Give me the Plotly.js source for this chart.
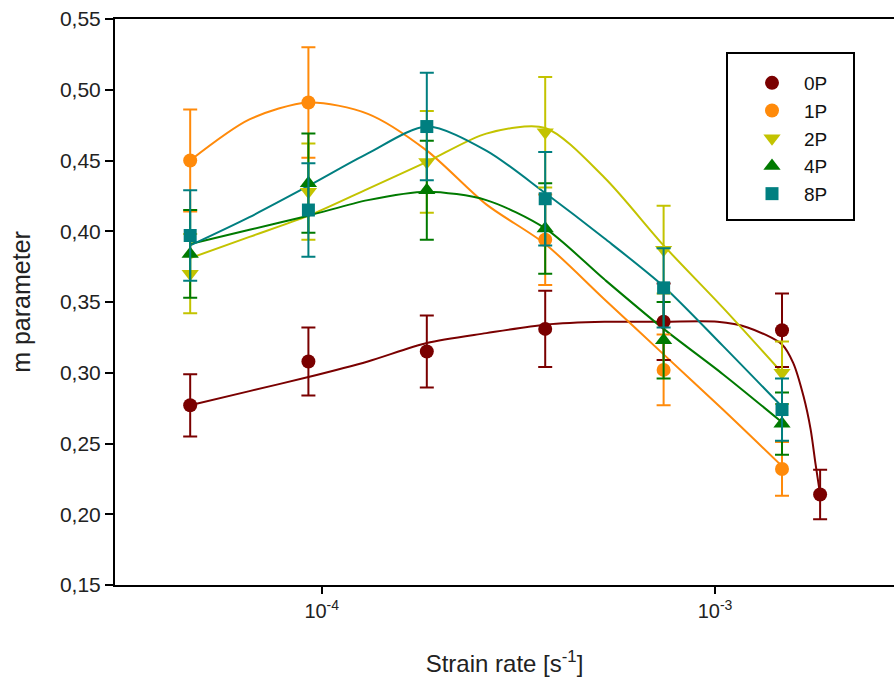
<!DOCTYPE html>
<html>
<head>
<meta charset="utf-8">
<script src="https://cdn.plot.ly/plotly-3.0.1.min.js"></script>
<style>html,body{margin:0;padding:0;background:#fff;}#chart{width:894px;height:687px;}</style>
</head>
<body>
<div id="chart"></div>
<script>
// ---- data ----
const seriesNames = ['0P', '1P', '2P', '4P', '8P'];
const strainRate = [4.63e-5, 9.25e-5, 1.85e-4, 3.7e-4, 7.4e-4, 1.48e-3];
const strainRate0P = [4.63e-5, 9.25e-5, 1.85e-4, 3.7e-4, 7.4e-4, 1.48e-3, 1.85e-3];

const m0P = [0.277, 0.308, 0.315, 0.331, 0.336, 0.330, 0.214];
const err0P = [0.022, 0.024, 0.0255, 0.027, 0.027, 0.026, 0.0175];
const m1P = [0.450, 0.491, null, 0.394, 0.302, 0.232];
const err1P = [0.036, 0.039, null, 0.032, 0.025, 0.019];
const m2P = [0.370, 0.428, 0.449, 0.470, 0.387, 0.300];
const err2P = [0.028, 0.034, 0.036, 0.039, 0.031, 0.022];
const m4P = [0.384, 0.434, 0.429, 0.402, 0.323, 0.264];
const err4P = [0.031, 0.035, 0.035, 0.032, 0.027, 0.022];
const m8P = [0.397, 0.415, 0.474, 0.423, 0.360, 0.274];
const err8P = [0.032, 0.033, 0.038, 0.033, 0.028, 0.022];

// fitted curves, values
const fitRate = [4.63e-5, 6.55e-5, 9.25e-5, 1.31e-4, 1.85e-4, 2.62e-4, 3.7e-4, 5.23e-4, 7.4e-4, 1.047e-3, 1.48e-3];
const fit1P = [0.450, 0.479, 0.491, 0.483, 0.457, 0.419, 0.391, 0.352, 0.313, 0.274, 0.234];
const fit2P = [0.381, 0.396, 0.411, 0.430, 0.449, 0.469, 0.473, 0.438, 0.390, 0.346, 0.300];
const fit4P = [0.391, 0.401, 0.411, 0.422, 0.428, 0.422, 0.402, 0.366, 0.331, 0.299, 0.265];
const fit8P = [0.390, 0.410, 0.432, 0.455, 0.474, 0.457, 0.427, 0.395, 0.361, 0.319, 0.276];
const fitRate0P = [4.63e-5, 6.55e-5, 9.25e-5, 1.31e-4, 1.85e-4, 2.62e-4, 3.7e-4, 5.23e-4, 7.4e-4, 1.014e-3, 1.21e-3, 1.48e-3, 1.58e-3, 1.68e-3, 1.75e-3, 1.80e-3, 1.85e-3];
const fit0P = [0.277, 0.287, 0.297, 0.308, 0.321, 0.328, 0.334, 0.336, 0.336, 0.336, 0.332, 0.320, 0.307, 0.283, 0.260, 0.236, 0.214];

const xTickVals = [1e-4, 1e-3];
const xTickText = ['10<sup>-4</sup>', '10<sup>-3</sup>'];

// ---- styling ----
const colors = ['#7a0000', '#ff8a0a', '#c3c300', '#007a00', '#007f80'];
const symbols = ['circle', 'circle', 'triangle-down', 'triangle-up', 'square'];
const sizes = [14, 14, 15, 15, 13];
const FONT = '"Liberation Sans", Arial, sans-serif';

const points = [
  [strainRate0P, m0P, err0P],
  [strainRate, m1P, err1P],
  [strainRate, m2P, err2P],
  [strainRate, m4P, err4P],
  [strainRate, m8P, err8P]
];
const fits = [
  [fitRate0P, fit0P],
  [fitRate, fit1P],
  [fitRate, fit2P],
  [fitRate, fit4P],
  [fitRate, fit8P]
];

const traces = [];
fits.forEach((f, i) => {
  traces.push({
    x: f[0], y: f[1], type: 'scatter', mode: 'lines',
    line: {color: colors[i], width: 2, shape: 'spline', smoothing: 0.8},
    showlegend: false, hoverinfo: 'skip'
  });
});
points.forEach((p, i) => {
  traces.push({
    x: p[0], y: p[1], type: 'scatter', mode: 'markers', name: seriesNames[i],
    marker: {color: colors[i], symbol: symbols[i], size: sizes[i]},
    error_y: {type: 'data', array: p[2], visible: true, color: colors[i], thickness: 2, width: 7}
  });
});

const L = 115, R = 0, T = 19, B = 102, W = 894, H = 687;
const pw = W - L - R, ph = H - T - B;
const px2x = v => (v - L) / pw;
const px2y = v => (H - B - v) / ph;

const layout = {
  width: W, height: H,
  margin: {l: L, r: R, t: T, b: B},
  paper_bgcolor: '#fff', plot_bgcolor: '#fff',
  separators: ', ',
  font: {family: FONT, color: '#000', size: 18},
  showlegend: true,
  legend: {
    x: px2x(740), y: px2y(64), xanchor: 'left', yanchor: 'top',
    bgcolor: 'rgba(0,0,0,0)', borderwidth: 0,
    font: {family: FONT, size: 19, color: '#111'},
    itemwidth: 54, traceorder: 'normal', tracegroupgap: 0
  },
  xaxis: {
    type: 'log', range: [-4.5256, -2.545],
    tickvals: xTickVals, ticktext: xTickText,
    ticks: 'outside', ticklen: 7, tickwidth: 2, tickcolor: '#000',
    showline: true, linewidth: 2, linecolor: '#000', mirror: true,
    showgrid: false, zeroline: false,
    tickfont: {family: FONT, size: 20, color: '#222'},
    title: {text: 'Strain rate [s<sup>-1</sup>]', font: {family: FONT, size: 24, color: '#222'}, standoff: 34}
  },
  yaxis: {
    range: [0.15, 0.55], dtick: 0.05, tick0: 0.15, tickformat: '.2f',
    ticks: 'outside', ticklen: 8, tickwidth: 2, tickcolor: '#000',
    showline: true, linewidth: 2, linecolor: '#000', mirror: false,
    showgrid: false, zeroline: false,
    tickfont: {family: FONT, size: 21, color: '#222'},
    title: {text: 'm parameter', font: {family: FONT, size: 25, color: '#222'}, standoff: 22}
  },
  shapes: [{
    type: 'rect', xref: 'paper', yref: 'paper',
    x0: px2x(727), x1: px2x(854), y0: px2y(220), y1: px2y(53),
    line: {color: '#000', width: 2}, fillcolor: 'rgba(0,0,0,0)'
  }]
};

Plotly.newPlot('chart', traces, layout, {displayModeBar: false, staticPlot: true});
</script>
</body>
</html>
